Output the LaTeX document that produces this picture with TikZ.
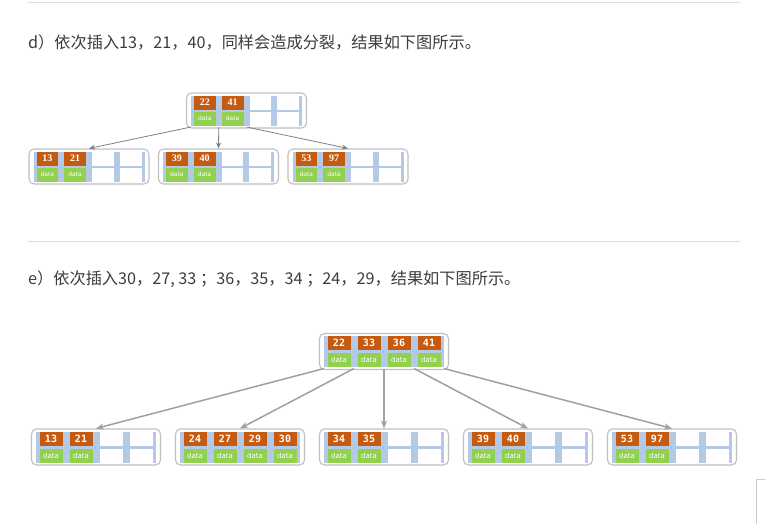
\documentclass[tikz,border=0pt]{standalone}
\usepackage{fontspec}
\usepackage{tikz}
\usetikzlibrary{arrows.meta}
\newfontfamily\cjk{Noto Sans CJK SC}
\newfontfamily\numserif{Liberation Serif}
\newfontfamily\nummono{DejaVu Sans Mono}
\newfontfamily\datasans{DejaVu Sans}
\definecolor{keyorange}{RGB}{197,90,17}
\definecolor{datagreen}{RGB}{146,208,80}
\definecolor{slotblue}{RGB}{180,201,230}
\definecolor{pagegray}{RGB}{192,192,192}
\definecolor{ptrdark}{RGB}{128,128,128}
\definecolor{ptrlight}{RGB}{160,160,160}
\definecolor{txtgray}{RGB}{60,60,60}
\definecolor{rulegray}{RGB}{221,221,221}

\begin{document}
\begin{tikzpicture}[x=1pt, y=-1pt,
  page/.style={draw=pagegray, line width=1.1pt, rounded corners=5pt, fill=white, inner sep=0pt},
  strip/.style={fill=slotblue},
  cell/.style={fill=white, inner sep=0pt, minimum width=\cellw pt, minimum height=\rowh pt},
  keycell/.style={cell, fill=keyorange, text=white, font=\keyfnt},
  datacell/.style={cell, fill=datagreen, text=white, font=\datafnt},
  ptr/.style={draw=ptrdark, line width=0.8pt, -{Stealth[length=6pt,width=5pt]}},
  bigptr/.style={draw=ptrlight, line width=1.5pt, -{Stealth[length=8pt,width=6pt]}},
  rule/.style={draw=rulegray, line width=1pt},
  caption/.style={anchor=west, text=txtgray, inner sep=0pt, font=\cjk\fontsize{16.2}{19}\selectfont}]
\useasboundingbox (0,0) rectangle (765,523);

\draw[rule] (28,2) -- (740,2);
\draw[rule] (28,241) -- (740,241);
\node[caption] (capd) at (28,42) {d）依次插入13，21，40，同样会造成分裂，结果如下图所示。};
\node[caption] (cape) at (28,279) {e）依次插入30，27, 33 ；36，35，34 ；24，29，结果如下图所示。};

% small tree
\def\pitch{27.75}\def\cellw{21.75}\def\rowh{14}\def\rowgap{2}
\def\keyfnt{\numserif\bfseries\fontsize{10}{10}\selectfont}
\def\datafnt{\datasans\fontsize{6}{6}\selectfont}
\pgfmathsetmacro\pagew{4*\pitch+9}\pgfmathsetmacro\hw{2*\pitch}
\pgfmathsetmacro\hh{\rowh+\rowgap/2}\pgfmathsetmacro\pageh{2*\hh+5}
\pgfmathsetmacro\rowoff{(\rowh+\rowgap)/2}
\foreach \n/\cx/\cy/\keys in {sr/246.5/110.5/{22,41}, s1/89/166.5/{13,21},
                              s2/218.5/166.5/{39,40}, s3/348/166.5/{53,97}}{
  \node[page, minimum width=\pagew pt, minimum height=\pageh pt] (\n) at (\cx,\cy) {};
  \fill[strip] (\cx-\hw,\cy-\hh) rectangle (\cx+\hw,\cy+\hh);
  \foreach \i in {1,...,4}{
    \node[cell] at (\cx+\i*\pitch-2.5*\pitch,\cy-\rowoff) {};
    \node[cell] at (\cx+\i*\pitch-2.5*\pitch,\cy+\rowoff) {};
  }
  \foreach \k [count=\i] in \keys{
    \node[keycell] (\n-k\i) at (\cx+\i*\pitch-2.5*\pitch,\cy-\rowoff) {\k};
    \node[datacell] (\n-d\i) at (\cx+\i*\pitch-2.5*\pitch,\cy+\rowoff) {data};
  }
  \foreach \j in {0,...,4}
    \coordinate (\n-p\j) at (\cx+\j*\pitch-2*\pitch,\cy+\pageh/2-1);
}
\draw[ptr] (sr-p0) -- (s1.north);
\draw[ptr] (sr-p1) -- (s2.north);
\draw[ptr] (sr-p2) -- (s3.north);

% big tree
\def\pitch{30}\def\cellw{23}\def\rowh{14}\def\rowgap{3}
\def\keyfnt{\nummono\bfseries\fontsize{10}{10}\selectfont}
\def\datafnt{\datasans\fontsize{7}{7}\selectfont}
\pgfmathsetmacro\pagew{4*\pitch+9}\pgfmathsetmacro\hw{2*\pitch}
\pgfmathsetmacro\hh{\rowh+\rowgap/2}\pgfmathsetmacro\pageh{2*\hh+5}
\pgfmathsetmacro\rowoff{(\rowh+\rowgap)/2}
\foreach \n/\cx/\cy/\keys in {br/384/351.5/{22,33,36,41}, b1/96/447/{13,21},
                              b2/240/447/{24,27,29,30}, b3/384/447/{34,35},
                              b4/528/447/{39,40}, b5/672/447/{53,97}}{
  \node[page, minimum width=\pagew pt, minimum height=\pageh pt] (\n) at (\cx,\cy) {};
  \fill[strip] (\cx-\hw,\cy-\hh) rectangle (\cx+\hw,\cy+\hh);
  \foreach \i in {1,...,4}{
    \node[cell] at (\cx+\i*\pitch-2.5*\pitch,\cy-\rowoff) {};
    \node[cell] at (\cx+\i*\pitch-2.5*\pitch,\cy+\rowoff) {};
  }
  \foreach \k [count=\i] in \keys{
    \node[keycell] (\n-k\i) at (\cx+\i*\pitch-2.5*\pitch,\cy-\rowoff) {\k};
    \node[datacell] (\n-d\i) at (\cx+\i*\pitch-2.5*\pitch,\cy+\rowoff) {data};
  }
  \foreach \j in {0,...,4}
    \coordinate (\n-p\j) at (\cx+\j*\pitch-2*\pitch,\cy+\pageh/2-1);
}
\draw[bigptr] (br-p0) -- (b1.north);
\draw[bigptr] (br-p1) -- (b2.north);
\draw[bigptr] (br-p2) -- (b3.north);
\draw[bigptr] (br-p3) -- (b4.north);
\draw[bigptr] (br-p4) -- (b5.north);

\draw[draw=gray!40, fill=white] (756,479) rectangle (766,524);
\end{tikzpicture}
\end{document}
